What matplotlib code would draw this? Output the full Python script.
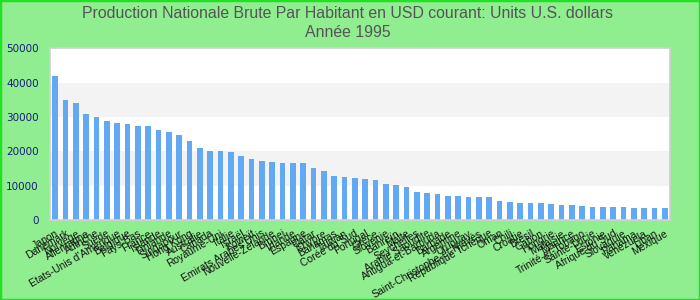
import matplotlib
matplotlib.use("Agg")
import matplotlib.pyplot as plt
from matplotlib.patches import Rectangle

# PNB par habitant 1995 (USD courant)
countries = [
    "Japon", "Danemark", "Norvège", "Allemagne", "Autriche", "Suède",
    "Etats-Unis d'Amérique", "Belgique", "Pays-Bas", "France", "Islande",
    "Finlande", "Singapour", "Hong Kong", "Australie", "Canada",
    "Royaume-Uni", "Italie", "Israël", "Koweït", "Emirats Arabes Unis",
    "Nouvelle-Zélande", "Brunei", "Irlande", "Espagne", "Qatar", "Chypre",
    "Bahamas", "Taïwan", "Corée du Sud", "Portugal", "Grèce", "Slovénie",
    "Bahreïn", "Malte", "Seychelles", "Arabie Saoudite",
    "Antigua-et-Barbuda", "Barbade", "Argentine", "Uruguay",
    "Saint-Christophe-et-Niévès", "République Tchèque", "Oman", "Chili",
    "Croatie", "Brésil", "Gabon", "Hongrie", "Malaisie", "Maurice",
    "Trinité-et-Tobago", "Sainte-Lucie", "Estonie", "Afrique du Sud",
    "Slovaquie", "Panama", "Venezuela", "Liban", "Mexique",
]
values = [
    42000, 35000, 34200, 30900, 30000, 28800, 28250, 27950, 27400, 27400,
    26200, 25600, 24750, 23000, 20950, 20100, 20100, 19800, 18650, 17750,
    17200, 16900, 16600, 16600, 16600, 15150, 14250, 12800, 12550, 12250,
    11950, 11650, 10500, 10200, 9600, 8150, 7850, 7550, 7000, 7000,
    6700, 6700, 6700, 5550, 5250, 4950, 4950, 4950, 4650, 4350,
    4350, 4100, 3800, 3800, 3800, 3800, 3500, 3500, 3500, 3500,
]
yticks = [0, 10000, 20000, 30000, 40000, 50000]
bands = [10000, 30000]

fig = plt.figure(figsize=(7, 3), dpi=100, facecolor="#90ee90")
fig.patches.append(Rectangle((0, 0), 1, 1, transform=fig.transFigure,
                             fill=False, edgecolor="#22e022", linewidth=2.5))

ax = fig.add_axes([50 / 700, 80 / 300, 620 / 700, 171.7 / 300])
ax.set_facecolor("white")

# bandes grises alternées
for lo in bands:
    ax.axhspan(lo, lo + 10000, color="#f3f3f3", zorder=0, lw=0)

x = range(len(countries))
ax.bar(x, values, width=0.58, color="#62a8f3", zorder=2)

ax.set_xlim(-0.5, len(countries) - 0.5)
ax.set_ylim(0, 50000)
ax.set_yticks(yticks)
ax.set_yticklabels([str(v) for v in yticks], color="#1a1a80", fontsize=7.5)
ax.tick_params(axis="y", length=0, pad=8)
ax.tick_params(axis="x", length=0, pad=6)
ax.set_xticks(list(x))
ax.set_xticklabels(countries, rotation=30, ha="right", rotation_mode="anchor",
                   fontsize=7.5, color="#111111", family="Liberation Sans")

for s in ax.spines.values():
    s.set_color("#d0d0d0")
    s.set_linewidth(1.2)

fig.text(0.497, 1 - 13 / 300,
         "Production Nationale Brute Par Habitant en USD courant: Units U.S. dollars",
         ha="center", va="center", fontsize=11.4, color="#555555",
         family="Liberation Sans")
fig.text(0.497, 1 - 32.5 / 300, "Année 1995", ha="center", va="center",
         fontsize=11.4, color="#555555", family="Liberation Sans")

fig.savefig("out.png", dpi=100, facecolor=fig.get_facecolor())
